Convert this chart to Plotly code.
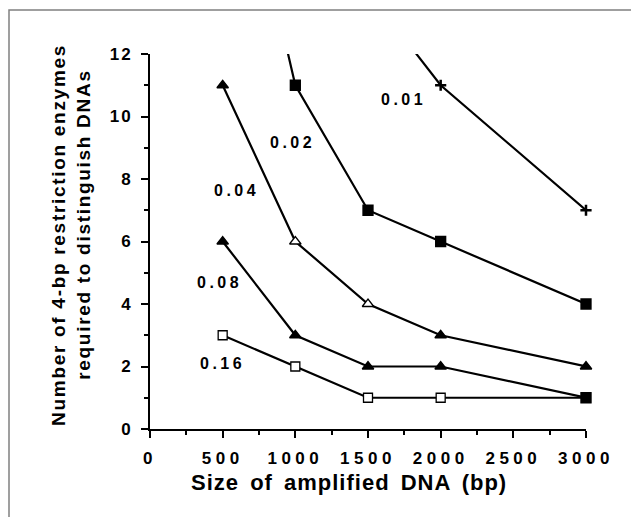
import plotly.graph_objects as go

# ---- data ----
sizes = [500, 1000, 1500, 2000, 3000]
series_names = ["0.16", "0.08", "0.04", "0.02", "0.01"]
v_016 = [3, 2, 1, 1, 1]
v_008 = [6, 3, 2, 2, 1]
v_004 = [11, 6, 4, 3, 2]
v_002 = [21, 11, 7, 6, 4]
x_001 = [1500, 2000, 3000]
v_001 = [14, 11, 7]

# label positions (data coords)
lab_x = [499, 475, 592, 980, 1741]
lab_y = [2.09, 4.68, 7.62, 9.16, 10.53]

x_ticks = [0, 500, 1000, 1500, 2000, 2500, 3000]
y_ticks = [0, 2, 4, 6, 8, 10, 12]
YMAX = 12

FONT = "Liberation Sans"

# page has an 8px body margin; layout below is in div pixels
OFF = 8
W, H = 639 - OFF, 517 - OFF
PW, PH, L, T = 436, 375, 142, 46


def px_x(p):
    return (p - OFF - L) / PW


def px_y(p):
    return (T + PH - (p - OFF)) / PH


fig = go.Figure()

styles = {
    "0.16": dict(x=sizes, y=v_016,
                 sym=["square"] * 5,
                 fill=["white", "white", "white", "white", "black"], size=9),
    "0.08": dict(x=sizes, y=v_008,
                 sym=["triangle-up", "triangle-up", "triangle-up", "triangle-up", "square"],
                 fill=["black"] * 5, size=10),
    "0.04": dict(x=sizes, y=v_004,
                 sym=["triangle-up"] * 5,
                 fill=["black", "white", "white", "black", "black"], size=10),
    "0.02": dict(x=sizes, y=v_002,
                 sym=["square"] * 5, fill=["black"] * 5, size=10),
    "0.01": dict(x=x_001, y=v_001,
                 sym=["cross-thin"] * 3, fill=["black"] * 3, size=8),
}

for name in series_names:
    s = styles[name]
    fig.add_trace(go.Scatter(x=s["x"], y=s["y"], mode="lines",
                             line=dict(color="black", width=2.2),
                             showlegend=False, hoverinfo="skip"))
for name in series_names:
    s = styles[name]
    keep = [i for i, v in enumerate(s["y"]) if v <= YMAX]
    lw = 2.5 if name == "0.01" else 1.3
    fig.add_trace(go.Scatter(
        x=[s["x"][i] for i in keep], y=[s["y"][i] for i in keep],
        mode="markers", cliponaxis=False, showlegend=False,
        marker=dict(symbol=[s["sym"][i] for i in keep],
                    color=[s["fill"][i] for i in keep],
                    size=s["size"], line=dict(color="black", width=lw))))

annotations = []
for name, lx, ly in zip(series_names, lab_x, lab_y):
    annotations.append(dict(x=lx, y=ly, xref="x", yref="y", text=name,
                            showarrow=False, xanchor="center", yanchor="middle",
                            font=dict(family=FONT, size=16, color="black", weight="bold")))
annotations.append(dict(x=px_x(58), y=px_y(235), xref="paper", yref="paper",
                        text="Number of 4-bp restriction enzymes", textangle=-90,
                        showarrow=False, xanchor="center", yanchor="middle",
                        font=dict(family=FONT, size=19, color="black", weight="bold")))
annotations.append(dict(x=px_x(84), y=px_y(225), xref="paper", yref="paper",
                        text="required to distinguish DNAs", textangle=-90,
                        showarrow=False, xanchor="center", yanchor="middle",
                        font=dict(family=FONT, size=19, color="black", weight="bold")))
annotations.append(dict(x=px_x(349), y=px_y(482), xref="paper", yref="paper",
                        text="Size of amplified DNA (bp)",
                        showarrow=False, xanchor="center", yanchor="middle",
                        font=dict(family=FONT, size=22, color="black", weight="bold")))

shapes = [dict(type="rect", xref="paper", yref="paper",
               x0=px_x(9), x1=px_x(660), y0=px_y(540), y1=px_y(10),
               line=dict(color="#808080", width=1.5), layer="below")]

axis_common = dict(showline=True, linecolor="black", linewidth=2,
                   ticks="outside", ticklen=7, tickwidth=2, tickcolor="black",
                   showgrid=False, zeroline=False, mirror=False,
                   tickfont=dict(family=FONT, size=17, color="black", weight="bold"))

fig.update_layout(
    width=W, height=H,
    margin=dict(l=L, r=W - L - PW, t=T, b=H - T - PH),
    paper_bgcolor="white", plot_bgcolor="white",
    xaxis=dict(range=[0, 3000], tickvals=x_ticks, ticklabelstandoff=6,
               minor=dict(dtick=250, ticklen=4, tickwidth=1.5, tickcolor="black", ticks="outside"),
               **axis_common),
    yaxis=dict(range=[0, YMAX], tickvals=y_ticks, ticklabelstandoff=5,
               minor=dict(dtick=1, ticklen=4, tickwidth=1.5, tickcolor="black", ticks="outside"),
               **axis_common),
    annotations=annotations, shapes=shapes,
)

ann_spacing = ["3.5px"] * 5 + ["1.7px", "1.7px", "1px"]
js_list = "[" + ",".join("'%s'" % s for s in ann_spacing) + "]"
post = """
var gd = document.getElementById('{plot_id}');
function applySpacing(){
  gd.querySelectorAll('.xtick text').forEach(function(t){ t.style.letterSpacing='4.5px'; });
  gd.querySelectorAll('.ytick text').forEach(function(t){ t.style.letterSpacing='2px'; });
  var sp = %s;
  gd.querySelectorAll('g.annotation').forEach(function(g){
    var i = parseInt(g.getAttribute('data-index'));
    var t = g.querySelector('text');
    if (t && sp[i]) { t.style.letterSpacing = sp[i]; if (i === 7) { t.style.wordSpacing = '4px'; } }
  });
}
applySpacing();
if (gd.on) { gd.on('plotly_afterplot', applySpacing); }
setTimeout(applySpacing, 50);
""" % js_list

fig.write_html("out.html", post_script=post)
